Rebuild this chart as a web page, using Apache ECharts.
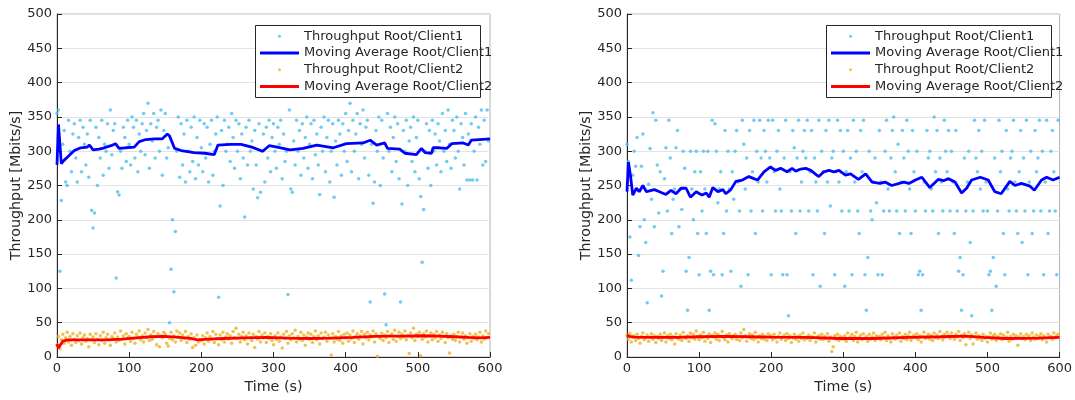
<!DOCTYPE html>
<html>
<head>
<meta charset="utf-8">
<script src="https://cdn.jsdelivr.net/npm/echarts@6/dist/echarts.min.js"></script>
<style>
html,body{margin:0;padding:0;background:#fff;}
#chart{width:1075px;height:400px;}
</style>
</head>
<body>
<div id="chart"></div>
<script>
// ---- Data ----
const seriesNames = ['Throughput Root/Client1', 'Moving Average Root/Client1', 'Throughput Root/Client2', 'Moving Average Root/Client2'];
const xTickInterval = 100;
const yTickInterval = 50;
const sampleStep = 2; // seconds between plotted samples

// Left panel: throughput samples Client1 (every 2 s, t = 0..598)
const leftClient1 = [
355,360,125,228,310,330,255,250,345,300,270,325,340,290,255,320,345,270,335,310,280,325,262,345,214,
188,210,335,250,320,290,345,265,310,300,340,275,360,295,330,340,115,241,236,300,275,335,320,285,345,
310,280,350,335,290,345,270,325,300,340,355,295,330,370,275,340,315,355,290,335,345,300,360,265,330,
355,290,305,50,128,200,95,183,300,350,262,340,280,325,255,345,300,270,335,285,350,260,320,280,345,
305,270,340,290,335,255,310,345,265,300,325,350,87,220,330,250,345,300,310,335,285,355,320,275,345,
300,340,260,325,290,204,335,280,345,300,315,245,330,280,232,340,240,300,325,255,335,290,345,270,320,
340,300,275,335,310,345,260,325,285,300,91,360,245,240,315,280,345,300,330,265,340,290,320,350,275,
310,340,260,345,295,325,280,237,335,300,350,270,320,345,255,300,340,233,315,280,345,325,265,340,300,
355,285,330,370,270,345,300,325,355,260,340,310,360,290,335,345,265,80,310,224,255,330,300,350,250,
345,290,92,47,355,300,335,270,320,350,285,340,260,80,223,330,300,345,250,315,335,285,350,270,320,
345,260,234,138,215,300,340,275,330,250,345,300,325,280,340,315,270,355,300,330,285,360,310,275,345,
330,290,350,300,245,340,320,280,355,258,325,258,340,258,300,350,258,335,310,360,280,345,285,360,315
];
// Left panel: throughput samples Client2
const leftClient2 = [
18,30,12,25,33,20,28,36,22,30,17,34,26,21,31,24,35,19,28,32,23,27,15,33,25,
29,21,34,26,18,31,24,36,20,28,33,25,17,30,27,35,22,29,24,38,26,31,19,34,28,
30,23,36,27,20,33,29,38,25,31,22,35,28,40,24,32,26,37,30,18,34,15,31,28,36,
33,20,16,27,36,25,31,22,38,29,35,24,32,27,37,21,30,26,34,14,28,17,32,22,26,
24,31,19,28,35,23,30,26,37,21,33,27,18,32,25,36,22,29,34,26,31,20,37,28,42,
27,33,22,30,36,25,31,19,35,28,24,33,14,30,26,37,22,32,28,35,21,30,27,34,24,
18,31,26,35,23,29,13,33,27,37,20,31,25,34,28,39,22,30,26,36,24,32,17,29,35,
26,33,21,30,38,25,31,19,35,27,29,36,23,32,28,3,34,22,30,26,37,24,31,20,33,
28,35,23,32,27,38,21,30,34,26,31,37,19,33,28,36,25,32,29,38,22,34,1,30,27,
35,24,32,28,37,21,31,34,26,39,23,30,36,27,33,29,38,25,31,5,35,28,42,24,33,
30,36,2,26,34,29,38,22,31,35,25,33,28,37,23,32,27,36,30,21,34,28,6,31,26,
33,24,30,36,22,29,35,26,31,20,28,34,23,30,27,33,25,29,36,22,31,26,38,28,34
];
// Left panel: moving averages
const leftMA1Time = [0,2,6,10,15,24,33,42,45,50,58,63,68,75,81,86,95,107,114,123,135,146,150,153,156,163,172,190,205,218,223,240,255,270,285,294,305,323,341,360,383,401,424,434,443,454,458,475,482,498,505,510,519,521,530,540,547,563,570,574,585,600];
const leftMA1Value = [280,339,282,287,292,301,305,306,309,302,303,304,306,308,311,304,305,306,314,317,318,318,322,325,322,304,301,298,297,295,309,310,310,306,300,308,306,302,304,309,305,311,312,316,309,312,304,303,297,295,304,298,297,305,305,304,311,312,309,316,317,318];
const leftMA2Time = [0,2,8,15,30,50,70,90,110,130,150,170,185,195,210,230,260,290,320,350,380,410,440,460,480,505,530,550,570,585,600];
const leftMA2Value = [19,13,23,25,25,25,25,26,28,29.5,30,28.5,27,25,26,27,28,28.5,27.5,27,27.5,28.5,30,30.5,30.5,31,30.5,29.5,28.5,28,28.5];

// Right panel: throughput samples Client1
const rightClient1 = [
310,285,175,112,265,300,278,320,148,190,278,325,200,167,79,252,304,230,356,190,345,280,210,270,89,
125,260,305,213,345,290,180,230,245,305,330,190,245,215,300,275,125,68,145,300,245,200,270,300,180,
120,270,213,300,245,180,300,68,125,345,120,340,300,225,245,270,120,180,330,213,300,245,125,270,230,
300,330,255,213,103,345,310,245,290,120,330,213,270,345,180,300,255,345,290,213,330,300,255,345,290,
120,345,270,213,300,330,245,213,120,290,345,120,60,270,213,330,305,180,290,345,213,255,300,330,290,
345,213,270,330,120,290,255,213,345,103,300,270,180,330,255,345,220,290,300,120,270,345,255,330,213,
300,103,270,330,213,290,120,345,255,300,213,180,330,270,345,120,68,145,300,213,200,255,290,225,120,
330,255,120,213,300,345,245,213,290,330,350,270,213,310,180,255,330,290,213,345,300,245,180,330,270,
213,300,120,125,68,120,255,213,330,290,300,245,213,350,270,330,180,290,255,213,345,300,270,330,213,
300,255,180,330,213,125,145,68,120,290,213,255,300,167,60,213,345,290,270,330,245,300,213,345,255,
213,120,125,68,145,290,103,213,345,270,300,180,120,330,245,213,290,300,345,255,213,180,270,330,167,
290,213,345,120,255,300,180,213,330,270,290,345,213,300,120,255,345,180,213,300,330,270,213,120,345
];
// Right panel: throughput samples Client2
const rightClient2 = [
32,26,34,22,29,31,24,33,27,20,30,35,25,28,32,23,29,34,26,31,21,30,27,33,24,
29,35,22,31,27,33,25,30,19,34,28,26,32,24,36,29,27,31,23,35,28,33,26,38,30,
25,32,28,36,23,30,27,34,21,31,29,35,26,33,24,30,37,28,25,32,22,34,29,27,31,
33,26,30,24,35,28,40,31,23,29,34,27,32,25,36,28,22,31,27,33,26,30,24,34,29,
31,25,33,28,22,30,35,26,29,32,24,34,27,31,21,28,33,26,30,23,32,27,35,25,29,
27,32,24,30,28,35,22,29,31,26,33,25,30,27,34,23,29,8,15,31,26,33,24,30,28,
26,31,23,35,27,29,33,24,30,36,22,28,32,25,34,27,30,23,33,26,29,35,24,31,27,
30,25,33,28,36,24,31,27,22,34,29,26,32,28,35,23,30,27,33,25,31,36,24,29,32,
28,34,25,31,22,30,36,27,29,33,26,31,24,35,28,32,27,37,30,25,33,29,36,31,27,
35,30,26,33,29,37,24,31,28,34,18,30,36,27,32,19,29,35,26,31,28,24,33,27,30,
22,29,35,26,31,33,24,30,28,34,25,32,27,29,36,23,30,26,33,28,31,17,29,34,27,
30,25,33,28,31,24,35,29,26,32,27,30,34,25,31,28,22,33,29,30,26,35,28,31,33
];
// Right panel: moving averages
const rightMA1Time = [0,2,5,8,13,17,22,27,38,45,54,61,68,75,82,88,96,104,110,114,119,126,133,137,144,151,160,169,176,181,190,199,206,213,222,229,234,241,248,255,261,266,273,280,287,294,303,310,321,331,340,351,358,367,384,391,400,409,420,432,439,446,455,464,471,478,490,501,510,519,531,538,547,559,565,575,582,591,600];
const rightMA1Value = [241,284,263,236,246,241,250,241,244,241,237,243,238,246,246,233,241,236,239,233,247,241,244,238,244,256,258,263,260,258,270,277,272,275,270,275,271,274,275,272,267,263,270,272,270,272,265,267,259,267,255,253,255,250,255,253,258,262,247,259,257,260,255,239,246,258,262,258,241,238,256,250,253,249,243,258,262,258,262];
const rightMA2Time = [0,3,10,40,70,100,135,170,200,250,295,340,390,435,470,495,525,570,600];
const rightMA2Value = [32,30,29,28.5,28.5,29.5,30,29.5,29,28.5,27,27,28.5,29.5,30.5,28.5,27,27.5,28.5];

// ---- Build ----
const FONT = 'DejaVu Sans';
const AX = '#262626';
const C_SC1 = '#4DBEEE', C_MA1 = '#0000FF', C_SC2 = '#EDB120', C_MA2 = '#FF0000';

function samples(vals) { return vals.map((v, i) => [i * sampleStep, v]); }
function pairs(ts, vs) { return ts.map((t, i) => [t, vs[i]]); }

function xAxisCfg(gi) {
  return {
    gridIndex: gi, type: 'value', min: 0, max: 600, interval: xTickInterval,
    name: 'Time (s)', nameLocation: 'middle', nameGap: 22,
    nameTextStyle: { fontFamily: FONT, fontSize: 14.3, color: AX },
    axisLine: { show: true, lineStyle: { color: AX, width: 1 } },
    axisTick: { show: true, inside: true, length: 5, lineStyle: { color: AX } },
    axisLabel: { fontFamily: FONT, fontSize: 13, color: AX, margin: 5 },
    splitLine: { show: false }
  };
}
function yAxisCfg(gi) {
  return {
    gridIndex: gi, type: 'value', min: 0, max: 500, interval: yTickInterval,
    name: 'Throughput [Mbits/s]', nameLocation: 'middle', nameGap: 31,
    nameTextStyle: { fontFamily: FONT, fontSize: 14.3, color: AX },
    axisLine: { show: true, lineStyle: { color: AX, width: 1 } },
    axisTick: { show: true, inside: true, length: 5, lineStyle: { color: AX } },
    axisLabel: { fontFamily: FONT, fontSize: 13, color: AX, margin: 5 },
    splitLine: { show: true, lineStyle: { color: '#e3e3e3', width: 1 } }
  };
}
function legendCfg(left) {
  return {
    left: left, top: 25, orient: 'vertical',
    itemWidth: 39, itemHeight: 3, itemGap: 0,
    padding: [3, 5, 2, 5],
    borderWidth: 0, backgroundColor: 'transparent',
    textStyle: { fontFamily: FONT, fontSize: 13, color: AX, lineHeight: 16.7 },
    selectedMode: false,
    data: [
      { name: seriesNames[0], icon: 'circle' },
      { name: seriesNames[1], icon: 'rect' },
      { name: seriesNames[2], icon: 'circle' },
      { name: seriesNames[3], icon: 'rect' }
    ]
  };
}
// legend frame (MATLAB draws a fixed-size box; text may run past its right edge)
function legendFrame(left) {
  return {
    type: 'rect', z: 3,
    shape: { x: left + 0.5, y: 25.5, width: 225, height: 72 },
    style: { fill: '#fff', stroke: AX, lineWidth: 1 }
  };
}
function panelSeries(gi, sc1, ma1, sc2, ma2) {
  return [
    { name: seriesNames[0], type: 'scatter', xAxisIndex: gi, yAxisIndex: gi, data: sc1, symbolSize: 3.5, itemStyle: { color: C_SC1 } },
    { name: seriesNames[1], type: 'line', xAxisIndex: gi, yAxisIndex: gi, data: ma1, showSymbol: false, symbol: 'none', lineStyle: { color: C_MA1, width: 2.8 }, itemStyle: { color: C_MA1 } },
    { name: seriesNames[2], type: 'scatter', xAxisIndex: gi, yAxisIndex: gi, data: sc2, symbolSize: 3.5, itemStyle: { color: C_SC2 } },
    { name: seriesNames[3], type: 'line', xAxisIndex: gi, yAxisIndex: gi, data: ma2, showSymbol: false, symbol: 'none', lineStyle: { color: C_MA2, width: 2.8 }, itemStyle: { color: C_MA2 } }
  ];
}

const chart = echarts.init(document.getElementById('chart'), null, { renderer: 'canvas' });
chart.setOption({
  animation: false,
  backgroundColor: '#fff',
  grid: [
    { left: 57, top: 14, width: 433, height: 343, show: true, borderColor: '#b4b4b4', borderWidth: 1, backgroundColor: 'transparent' },
    { left: 627, top: 14, width: 434, height: 343, show: true, borderColor: '#b4b4b4', borderWidth: 1, backgroundColor: 'transparent' }
  ],
  graphic: [legendFrame(255), legendFrame(826)],
  xAxis: [xAxisCfg(0), xAxisCfg(1)],
  yAxis: [yAxisCfg(0), yAxisCfg(1)],
  legend: [legendCfg(255), legendCfg(826)],
  series: [].concat(
    panelSeries(0, samples(leftClient1), pairs(leftMA1Time, leftMA1Value), samples(leftClient2), pairs(leftMA2Time, leftMA2Value)),
    panelSeries(1, samples(rightClient1), pairs(rightMA1Time, rightMA1Value), samples(rightClient2), pairs(rightMA2Time, rightMA2Value))
  )
});
</script>
</body>
</html>
